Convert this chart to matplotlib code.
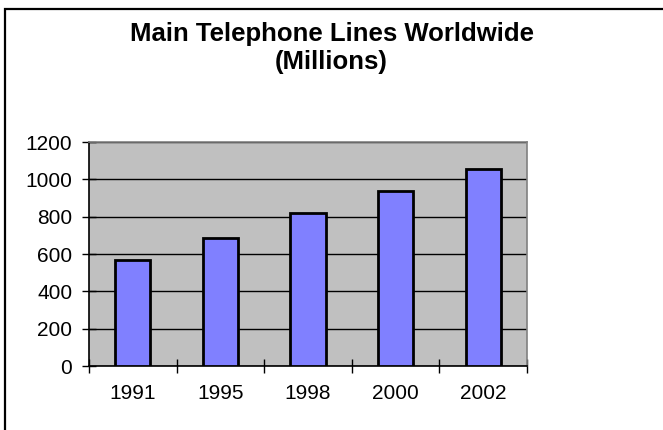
import matplotlib.pyplot as plt
import matplotlib.patches as patches
import numpy as np

plt.rcParams['font.family'] = ['Liberation Sans', 'DejaVu Sans']

years = ['1991', '1995', '1998', '2000', '2002']
lines_millions = [570, 686, 818, 935, 1056]
yticks = [0, 200, 400, 600, 800, 1000, 1200]

fig = plt.figure(figsize=(6.63, 4.30), dpi=100)
ax = fig.add_axes([89 / 663, 1 - 366 / 430, 438 / 663, 224 / 430])

x = np.arange(len(years))
ax.set_facecolor('#C0C0C0')
ax.set_axisbelow(True)
ax.yaxis.grid(True, color='black', linewidth=1)
ax.bar(x, lines_millions, width=0.4, color='#8080FF', edgecolor='black', linewidth=2, zorder=3)

ax.set_xlim(-0.5, len(years) - 0.5)
ax.set_ylim(0, 1200)
ax.set_yticks(yticks)
ax.set_yticklabels([str(v) for v in yticks])

# category labels between the crossing tick marks
ax.set_xticks(np.arange(-0.5, len(years), 1.0))
ax.set_xticklabels([])
ax.set_xticks(x, minor=True)
ax.set_xticklabels(years, minor=True)
ax.tick_params(axis='x', which='minor', length=0, pad=13, labelsize=15)
ax.tick_params(axis='x', which='major', direction='inout', length=10, width=1)
ax.tick_params(axis='y', direction='inout', length=10, width=1, pad=7, labelsize=15)

ax.spines['left'].set_color('black')
ax.spines['bottom'].set_color('black')
ax.spines['top'].set_color('#808080')
ax.spines['right'].set_color('#808080')
for s in ax.spines.values():
    s.set_linewidth(1.2)

fig.text(0.5, 1 - 48 / 430, 'Main Telephone Lines Worldwide\n(Millions)', ha='center', va='center',
         fontsize=18.5, fontweight='bold', linespacing=1.22)

# chart border (runs off the right and bottom of the image)
fig.patches.append(patches.Rectangle((5 / 663, -0.1), 1.2, 1.1 - 9 / 430, transform=fig.transFigure,
                                     fill=False, edgecolor='black', linewidth=1.6))

fig.savefig('out.png', dpi=100)
